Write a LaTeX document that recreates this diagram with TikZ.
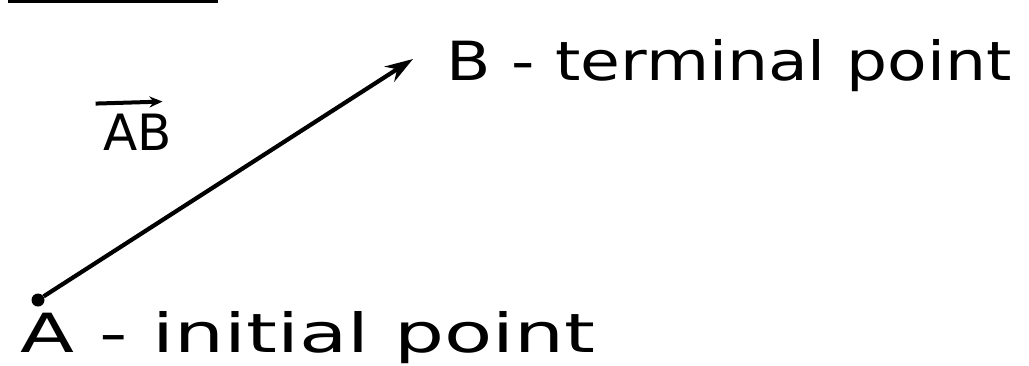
\documentclass[tikz,border=0pt]{standalone}
\usepackage{amsmath}
\usepackage{fontspec}
\setmainfont{DejaVu Sans}
\usepackage{tikz}
\usetikzlibrary{arrows.meta}
\tikzset{
  lbl/.style={anchor=base west, inner sep=0pt, font=\fontsize{54}{60}\selectfont},
  vec/.style={line width=4.2pt, -{Stealth[length=28pt, width=18pt]}},
  over/.style={line width=4pt, -{Stealth[length=13pt, width=11pt]}},
  dot/.style={circle, fill=black, inner sep=0pt, minimum size=13pt},
  rule/.style={line width=4pt},
}

\begin{document}
\begin{tikzpicture}[x=1pt, y=-1pt]
    \useasboundingbox (0,0) rectangle (1029,365);
    \coordinate (ruleL) at (8,1);
    \coordinate (ruleR) at (218,1);
    \draw[rule] (ruleL) -- (ruleR);

    \node[dot] (a) at (38,300) {};
    \coordinate (b) at (413,59);
    \draw[vec] (a) -- (b);

    \node[lbl] (blbl) at (446,80) {\scalebox{1.2}[1]{B - terminal point}};
    \node[lbl] (albl) at (20,352) {\scalebox{1.46}[1]{A - initial point}};

    % vector name with its arrow
    \node[inner sep=0pt, font=\fontsize{50}{54}\selectfont] (ab) at (138,132) {AB};
    \draw[over] ([xshift=-8pt, yshift=10pt]ab.north west) -- ([xshift=-10pt, yshift=12pt]ab.north east);
  \end{tikzpicture}
\end{document}
